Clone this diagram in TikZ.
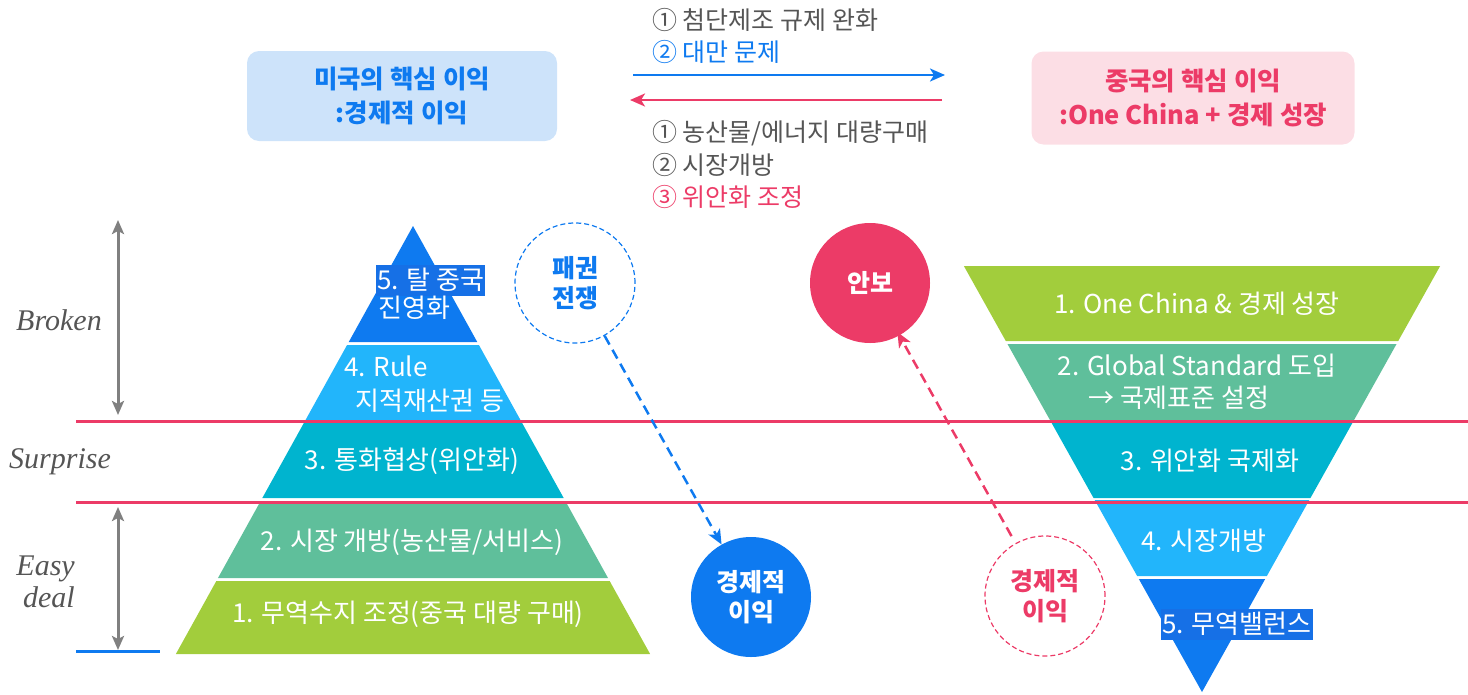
\documentclass[tikz,border=0pt]{standalone}
\usepackage{fontspec}
\setmainfont{Noto Sans CJK KR}
\newfontfamily\serifit{Liberation Serif}
\usetikzlibrary{arrows.meta}

\definecolor{usblue}{HTML}{0E7AF0}
\definecolor{hlblue}{HTML}{1670E6}
\definecolor{skyblue}{HTML}{22B5FB}
\definecolor{tealband}{HTML}{00B4CF}
\definecolor{mintband}{HTML}{5FBF9B}
\definecolor{limeband}{HTML}{A2CD3C}
\definecolor{cnpink}{HTML}{EC3B67}
\definecolor{usbox}{HTML}{CDE3FA}
\definecolor{cnbox}{HTML}{FCDEE5}
\definecolor{txtgray}{HTML}{555555}
\definecolor{arrgray}{HTML}{808080}

\tikzset{
  lbl/.style={font=\fontsize{26}{30}\selectfont, inner sep=0pt},
  bandtext/.style={lbl, text=white},
  note/.style={font=\fontsize{25}{28}\selectfont, inner sep=0pt, text=txtgray, anchor=west},
  ital/.style={font=\fontsize{30}{32}\selectfont\serifit\itshape, text=txtgray, inner sep=0pt},
  ball/.style={circle, minimum size=120pt, inner sep=0pt, align=center, font=\fontsize{25}{30}\selectfont\bfseries},
  hl/.style={bandtext, fill=hlblue, inner xsep=1pt, minimum height=31pt},
  corebox/.style={rounded corners=12pt, minimum width=310pt, minimum height=90pt, align=center, font=\fontsize{25.5}{34}\selectfont\bfseries},
  ring/.style={line width=1.2pt, dash pattern=on 5pt off 3pt},
  dasharrow/.style={line width=2.5pt, dash pattern=on 10pt off 6pt, -{Stealth[length=15pt,width=13pt,inset=4pt]}},
  flatarrow/.style={line width=2.5pt, -{Stealth[length=15pt,width=13pt,inset=4pt]}},
  span/.style={arrgray, line width=3pt, {Stealth[length=14pt,width=12pt,inset=3pt]}-{Stealth[length=14pt,width=12pt,inset=3pt]}}
}

\begin{document}
\begin{tikzpicture}[x=1pt,y=-1pt]
    \useasboundingbox (0,0) rectangle (1468,694);

    % core interests
    \node[corebox, fill=usbox, text=usblue] (uscore) at (402,96) {미국의 핵심 이익\\:경제적 이익};
    \node[corebox, fill=cnbox, text=cnpink, minimum width=323pt, minimum height=93pt] (cncore) at (1193,98) {중국의 핵심 이익\\:One China + 경제 성장};

    % demands
    \node[note] (d1) at (652,20) {① 첨단제조 규제 완화};
    \node[note, text=usblue] (d2) at (652,52) {② 대만 문제};
    \node[note] (o1) at (652,133) {① 농산물/에너지 대량구매};
    \node[note] (o2) at (652,165) {② 시장개방};
    \node[note, text=cnpink] (o3) at (652,197) {③ 위안화 조정};

    \coordinate (ua) at (633,75);
    \coordinate (ub) at (945,75);
    \coordinate (ca) at (942,100);
    \coordinate (cb) at (630,100);
    \draw[flatarrow, usblue] (ua) -- (ub);
    \draw[flatarrow, cnpink] (ca) -- (cb);

    % pyramid (US)
    \foreach \t/\b/\c in {226/342/usblue, 345/420/skyblue, 421/498/tealband, 503/578/mintband, 581/654/limeband}
        \fill[\c] ({413-0.554*(\t-226)},\t) -- ({413+0.554*(\t-226)},\t) -- ({413+0.554*(\b-226)},\b) -- ({413-0.554*(\b-226)},\b) -- cycle;

    % inverted pyramid (China)
    \foreach \t/\b/\c in {266/341/limeband, 344/420/mintband, 422/498/tealband, 500/576/skyblue, 579/692/usblue}
        \fill[\c] ({1202-0.559*(692-\t)},\t) -- ({1202+0.559*(692-\t)},\t) -- ({1202+0.559*(692-\b)},\b) -- ({1202-0.559*(692-\b)},\b) -- cycle;

    % levels
    \draw[cnpink, line width=3pt] (76,421) -- (1468,421);
    \draw[cnpink, line width=3pt] (76,502) -- (1468,502);
    \draw[usblue, line width=3pt] (76,651) -- (160,651);

    \coordinate (bt) at (118,220);
    \coordinate (bb) at (118,415);
    \coordinate (et) at (118,507);
    \coordinate (eb) at (118,650);
    \draw[span] (bt) -- (bb);
    \draw[span] (et) -- (eb);

    \node[ital] (broken) at (59,320) {Broken};
    \node[ital] (surprise) at (60,462) {Surprise};
    \node[ital, align=right, anchor=east] (easy) at (75,582) {Easy\\deal};

    % band labels
    \node[hl, anchor=west] (l5a) at (376,280) {5. 탈 중국};
    \node[bandtext, anchor=west] (l5b) at (378,308) {진영화};
    \node[bandtext, anchor=west] (l4a) at (344,366) {4. Rule};
    \node[bandtext, anchor=west] (l4b) at (355,401) {지적재산권 등};
    \node[bandtext] (l3) at (412,461) {3. 통화협상(위안화)};
    \node[bandtext] (l2) at (412,542) {2. 시장 개방(농산물/서비스)};
    \node[bandtext] (l1) at (408,614) {1. 무역수지 조정(중국 대량 구매)};

    \node[bandtext] (r1) at (1197,304) {1. One China \& 경제 성장};
    \node[bandtext] (r2a) at (1197,366) {2. Global Standard 도입};
    \node[bandtext, anchor=west] (r2b) at (1088,398) {→ 국제표준 설정};
    \node[bandtext] (r3) at (1210,461) {3. 위안화 국제화};
    \node[bandtext] (r4) at (1204,541) {4. 시장개방};
    \node[hl] (r5) at (1237,624) {5. 무역밸런스};

    % circles
    \node[ball, draw=usblue, ring, text=usblue] (war) at (575,283) {패권\\전쟁};
    \node[ball, fill=usblue, text=white] (usgain) at (751,597) {경제적\\이익};
    \node[ball, fill=cnpink, text=white] (security) at (870,283) {안보};
    \node[ball, draw=cnpink, ring, text=cnpink] (cngain) at (1045,596) {경제적\\이익};

    \draw[dasharrow, usblue] (war) -- (usgain);
    \draw[dasharrow, cnpink, shorten <=8pt, shorten >=-4pt] (cngain) -- (security);
\end{tikzpicture}
\end{document}
